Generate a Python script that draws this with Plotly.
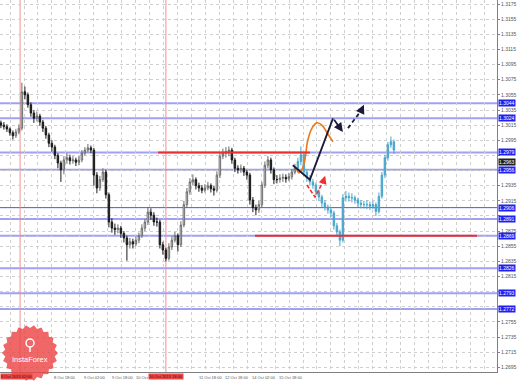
import math
import plotly.graph_objects as go

# ---------------- data ----------------
OPEN_FIRST = 1.3018
CLOSE_HIST = [1.3015,1.3013,1.3010,1.3005,1.3001,1.3006,1.3011,1.3059,1.3055,1.3042,
              1.3031,1.3024,1.3027,1.3019,1.3011,1.3002,1.2991,1.2986,1.2975,1.2965,
              1.2956,1.2969,1.2972,1.2968,1.2969,1.2966,1.2969,1.2978,1.2982,1.2985,
              1.2982,1.2949,1.2932,1.2943,1.2953,1.2923,1.2887,1.2879,1.2877,1.2879,
              1.2872,1.2866,1.2857,1.2861,1.2858,1.2863,1.2869,1.2879,1.2887,1.2900,
              1.2896,1.2887,1.2887,1.2857,1.2850,1.2839,1.2854,1.2863,1.2869,1.2857,
              1.2883,1.2910,1.2927,1.2940,1.2943,1.2935,1.2932,1.2929,1.2932,1.2935,
              1.2931,1.2929,1.2949,1.2974,1.2978,1.2980,1.2982,1.2969,1.2958,1.2956,
              1.2958,1.2953,1.2949,1.2916,1.2906,1.2903,1.2910,1.2936,1.2962,1.2969,
              1.2956,1.2943,1.2943,1.2945,1.2946,1.2944,1.2947,1.2953,1.2958]
HIGH_HIST = [1.3021,1.3019,1.3016,1.3012,1.3008,1.3010,1.3016,1.3071,1.3066,1.3058,
             1.3045,1.3035,1.3033,1.3030,1.3022,1.3014,1.3005,1.2995,1.2989,1.2978,
             1.2968,1.2974,1.2978,1.2976,1.2974,1.2972,1.2974,1.2982,1.2986,1.2990,
             1.2988,1.2985,1.2953,1.2948,1.2958,1.2956,1.2926,1.2892,1.2885,1.2884,
             1.2882,1.2875,1.2869,1.2866,1.2865,1.2868,1.2873,1.2884,1.2891,1.2907,
             1.2905,1.2900,1.2893,1.2890,1.2861,1.2853,1.2859,1.2868,1.2874,1.2872,
             1.2888,1.2915,1.2932,1.2945,1.2950,1.2946,1.2939,1.2936,1.2937,1.2940,
             1.2938,1.2935,1.2954,1.2979,1.2984,1.2986,1.2987,1.2985,1.2972,1.2962,
             1.2963,1.2961,1.2956,1.2952,1.2920,1.2910,1.2915,1.2940,1.2967,1.2974,
             1.2972,1.2959,1.2949,1.2950,1.2951,1.2950,1.2952,1.2957,1.2964]
LOW_HIST = [1.3011,1.3009,1.3006,1.3001,1.2996,1.2998,1.3003,1.3008,1.3049,1.3038,
            1.3026,1.3018,1.3020,1.3014,1.3006,1.2997,1.2986,1.2980,1.2970,1.2958,
            1.2940,1.2950,1.2964,1.2963,1.2964,1.2961,1.2962,1.2966,1.2975,1.2979,
            1.2978,1.2935,1.2925,1.2928,1.2940,1.2918,1.2880,1.2873,1.2870,1.2872,
            1.2866,1.2860,1.2836,1.2852,1.2852,1.2855,1.2859,1.2866,1.2875,1.2883,
            1.2890,1.2882,1.2881,1.2852,1.2844,1.2835,1.2836,1.2850,1.2860,1.2848,
            1.2854,1.2880,1.2906,1.2923,1.2936,1.2930,1.2927,1.2925,1.2926,1.2929,
            1.2926,1.2922,1.2926,1.2945,1.2970,1.2972,1.2974,1.2964,1.2953,1.2951,
            1.2952,1.2948,1.2943,1.2910,1.2900,1.2896,1.2899,1.2906,1.2932,1.2958,
            1.2951,1.2937,1.2938,1.2939,1.2940,1.2939,1.2941,1.2943,1.2950]

CLOSE_FUT = [1.2967,1.2976,1.2953,1.2945,1.2940,1.2936,1.2927,1.2920,1.2912,1.2907,
             1.2903,1.2899,1.2882,1.2874,1.2863,1.2919,1.2921,1.2919,1.2919,1.2916,
             1.2912,1.2910,1.2910,1.2910,1.2908,1.2910,1.2901,1.2921,1.2949,1.2972,
             1.2989,1.2993,1.2982]
HIGH_FUT = [1.2972,1.2987,1.2979,1.2957,1.2949,1.2944,1.2939,1.2930,1.2923,1.2916,
            1.2910,1.2907,1.2902,1.2886,1.2877,1.2924,1.2928,1.2926,1.2925,1.2922,
            1.2919,1.2916,1.2915,1.2916,1.2914,1.2915,1.2913,1.2926,1.2953,1.2976,
            1.2993,1.3000,1.2996]
LOW_FUT = [1.2954,1.2962,1.2948,1.2940,1.2935,1.2931,1.2922,1.2915,1.2907,1.2902,
           1.2898,1.2893,1.2877,1.2869,1.2855,1.2860,1.2914,1.2914,1.2913,1.2911,
           1.2907,1.2905,1.2905,1.2904,1.2903,1.2904,1.2895,1.2898,1.2918,1.2945,
           1.2968,1.2985,1.2977]

PRICE_TICKS = [1.3175,1.3155,1.3135,1.3115,1.3095,1.3075,1.3055,1.3035,1.3015,1.2995,
               1.2975,1.2955,1.2935,1.2915,1.2895,1.2875,1.2855,1.2835,1.2815,1.2795,
               1.2775,1.2755,1.2735,1.2715,1.2695]
LEVELS = [1.3044,1.3024,1.2979,1.2956,1.2906,1.2891,1.2869,1.2826,1.2793,1.2772]
CURRENT_PRICE = 1.2963

RED_LEVEL_1 = (1.2979, 52.4, 103.0)   # price, from bar, to bar
RED_LEVEL_2 = (1.2869, 84.7, 158.7)
RED_VLINES = [6.4, 55.0]
RED_VLINE_LABELS = ["8 Oct 2013 02:00", "10 Oct 2013 18:00"]

TIME_LABELS = ["8 Oct 18:00","9 Oct 02:00","9 Oct 18:00","10 Oct",
               "11 Oct 18:00","12 Oct 18:00","14 Oct 02:00","15 Oct 18:00"]
TIME_LABEL_BARS = [17.0, 27.0, 36.4, 44.4, 65.4, 74.0, 83.0, 92.0]

# hand-drawn forecast sketches (bar index, price)
ORANGE_X = [98.7, 99.3, 100.3, 101.3, 102.3, 103.7, 105.3, 107.0, 108.7, 110.7]
ORANGE_Y = [1.2956, 1.2952, 1.2956, 1.2969, 1.2995, 1.3011, 1.3018, 1.3015, 1.3005, 1.2993]
BLACK_X = [97.3, 103.0, 110.7]
BLACK_Y = [1.2962, 1.2943, 1.3024]
BLACK_HEAD = (114.0, 1.3006)
DASH_X = [115.7, 120.2]
DASH_Y = [1.3011, 1.3035]
DASH_HEAD = (121.0, 1.3042)
RED_DASH_X = [102.0, 104.7, 107.5]
RED_DASH_Y = [1.2936, 1.2920, 1.2941]
RED_DASH_HEAD = (108.1, 1.2948)

# ---------------- figure ----------------
W, H = 519, 381
ML, MR, MT, MB = 0, 22, 0, 9
PW, PH = W - ML - MR, H - MT - MB
X0 = -0.3
X1 = X0 + PW / 3.0
Y0, Y1 = 1.26889, 1.31803
FONT = "Liberation Sans"

open_hist = [OPEN_FIRST] + CLOSE_HIST[:-1]
open_fut = [CLOSE_HIST[-1]] + CLOSE_FUT[:-1]
x_hist = list(range(len(CLOSE_HIST)))
x_fut = list(range(len(CLOSE_HIST), len(CLOSE_HIST) + len(CLOSE_FUT)))

fig = go.Figure()

# blue level lines
for lv in LEVELS:
    thin = abs(lv - 1.2906) < 1e-6
    fig.add_shape(type="line", xref="paper", yref="y", x0=0, x1=1, y0=lv, y1=lv,
                  line=dict(color="#5050f0" if thin else "#a0a0f4", width=1 if thin else 2),
                  layer="below")
# red verticals
for vx in RED_VLINES:
    fig.add_shape(type="line", xref="x", yref="paper", x0=vx, x1=vx, y0=0, y1=1,
                  line=dict(color="#f09090", width=1), layer="below")
# red horizontals
for lv, a, b in (RED_LEVEL_1, RED_LEVEL_2):
    fig.add_shape(type="line", xref="x", yref="y", x0=a, x1=b, y0=lv, y1=lv,
                  line=dict(color="#e83030", width=2))

fig.add_trace(go.Candlestick(
    x=x_hist, open=open_hist, high=HIGH_HIST, low=LOW_HIST, close=CLOSE_HIST,
    increasing=dict(line=dict(color="#6a6a6a", width=1), fillcolor="#ffffff"),
    decreasing=dict(line=dict(color="#1a1a1a", width=1), fillcolor="#1a1a1a"),
    whiskerwidth=0, hoverinfo="skip"))
fig.add_trace(go.Candlestick(
    x=x_fut, open=open_fut, high=HIGH_FUT, low=LOW_FUT, close=CLOSE_FUT,
    increasing=dict(line=dict(color="#4aa6cc", width=1), fillcolor="#4aa6cc"),
    decreasing=dict(line=dict(color="#4aa6cc", width=1), fillcolor="#4aa6cc"),
    whiskerwidth=0, hoverinfo="skip"))

# sketches
fig.add_trace(go.Scatter(x=ORANGE_X, y=ORANGE_Y, mode="lines", line=dict(color="#f07818", width=1.6, shape="spline")))
fig.add_trace(go.Scatter(x=BLACK_X, y=BLACK_Y, mode="lines", line=dict(color="#1a1a3a", width=1.8)))
fig.add_trace(go.Scatter(x=DASH_X, y=DASH_Y, mode="lines", line=dict(color="#1a1a3a", width=1.8, dash="4px,3px")))
fig.add_trace(go.Scatter(x=RED_DASH_X, y=RED_DASH_Y, mode="lines", line=dict(color="#f03030", width=1.6, dash="4px,2px")))

ann = []
for head, xs, ys, col, w in ((BLACK_HEAD, BLACK_X, BLACK_Y, "#1a1a3a", 1.8),
                             (DASH_HEAD, DASH_X, DASH_Y, "#1a1a3a", 1.8),
                             (RED_DASH_HEAD, RED_DASH_X, RED_DASH_Y, "#f03030", 1.6)):
    ann.append(dict(x=head[0], y=head[1], ax=xs[-1], ay=ys[-1], xref="x", yref="y",
                    axref="x", ayref="y", showarrow=True, arrowhead=2, arrowsize=1, arrowwidth=w,
                    arrowcolor=col, text=""))

# right-side level labels
for lv in LEVELS:
    ann.append(dict(x=1, xref="paper", y=lv, yref="y", xanchor="left", yanchor="middle", xshift=1,
                    text="%.4f" % lv, showarrow=False, bgcolor="#2020f0", borderpad=0,
                    font=dict(size=5, color="white", family=FONT)))
ann.append(dict(x=1, xref="paper", y=CURRENT_PRICE, yref="y", xanchor="left", yanchor="bottom", xshift=1,
                yshift=-1, text="%.4f" % CURRENT_PRICE, showarrow=False, bgcolor="#202020", borderpad=0,
                font=dict(size=5, color="white", family=FONT)))

# time labels
for t, bx in zip(TIME_LABELS, TIME_LABEL_BARS):
    ann.append(dict(x=bx, xref="x", y=0, yref="paper", xanchor="left", yanchor="top", yshift=-1,
                    text=t, showarrow=False, font=dict(size=4, color="#555", family=FONT)))
ann.append(dict(x=0, xref="paper", y=0, yref="paper", xanchor="left", yanchor="top", yshift=-1,
                text=RED_VLINE_LABELS[0], showarrow=False, bgcolor="#e84848", borderpad=0,
                font=dict(size=4, color="#600000", family=FONT)))
ann.append(dict(x=RED_VLINES[1], xref="x", y=0, yref="paper", xanchor="center", yanchor="top", yshift=-1,
                text=RED_VLINE_LABELS[1], showarrow=False, bgcolor="#e84848", borderpad=0,
                font=dict(size=4, color="#600000", family=FONT)))

# watermark (InstaForex badge)
def px2paper(px, py):
    return px / PW, 1 - py / PH

cx, cy, ro, ri, n = 30, 353, 28, 25, 22
pts = []
for k in range(2 * n):
    r = ro if k % 2 == 0 else ri
    a = math.pi * k / n
    pts.append(px2paper(cx + r * math.cos(a), cy + r * math.sin(a)))
path = "M " + " L ".join("%.5f,%.5f" % p for p in pts) + " Z"
fig.add_shape(type="path", xref="paper", yref="paper", path=path,
              fillcolor="rgba(236,70,70,0.82)", line=dict(width=0), layer="above")
ix0, iy0 = px2paper(cx - 4, cy - 14)
ix1, iy1 = px2paper(cx + 4, cy - 6)
fig.add_shape(type="circle", xref="paper", yref="paper", x0=ix0, y0=iy0, x1=ix1, y1=iy1,
              line=dict(color="white", width=1.5), fillcolor="rgba(0,0,0,0)", layer="above")
sx0, sy0 = px2paper(cx, cy - 6)
sx1, sy1 = px2paper(cx, cy - 1)
fig.add_shape(type="line", xref="paper", yref="paper", x0=sx0, y0=sy0, x1=sx1, y1=sy1,
              line=dict(color="white", width=1.5), layer="above")
tx, ty = px2paper(cx, cy + 6)
ann.append(dict(x=tx, y=ty, xref="paper", yref="paper", xanchor="center", yanchor="middle",
                text="InstaForex", showarrow=False,
                font=dict(size=7.5, color="white", family=FONT)))

# hide tick labels that sit behind level boxes (as in the reference)
tick_text = []
for v in PRICE_TICKS:
    near = any(abs(v - lv) < 0.0006 for lv in LEVELS + [CURRENT_PRICE])
    tick_text.append("" if near else "%.4f" % v)

fig.update_layout(
    width=W, height=H, margin=dict(l=ML, r=MR, t=MT, b=MB),
    paper_bgcolor="white", plot_bgcolor="white", showlegend=False,
    annotations=ann,
    xaxis=dict(range=[X0, X1], rangeslider=dict(visible=False), showticklabels=False,
               showgrid=True, gridcolor="#cfcfcf", griddash="dot", gridwidth=1,
               tick0=17.0, dtick=4.65, zeroline=False, showline=True, linecolor="#808080",
               linewidth=1, ticks=""),
    yaxis=dict(range=[Y0, Y1], side="right", tickvals=PRICE_TICKS, ticktext=tick_text,
               tickfont=dict(size=5, color="#555", family=FONT),
               showgrid=True, gridcolor="#cfcfcf", griddash="dot", gridwidth=1,
               zeroline=False, showline=True, linecolor="#808080", linewidth=1,
               ticks="outside", ticklen=2, tickcolor="#808080"),
)

fig.write_html("out.html")
